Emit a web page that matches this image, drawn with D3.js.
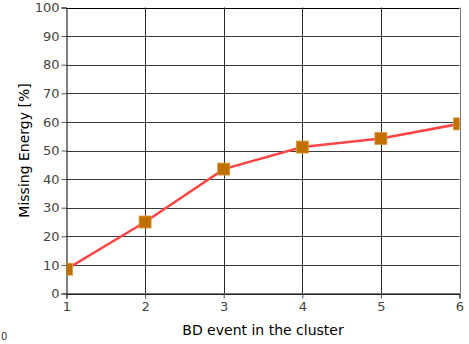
<!DOCTYPE html>
<html>
<head>
<meta charset="utf-8">
<script src="https://cdn.jsdelivr.net/npm/d3@7"></script>
<style>
  html, body { margin: 0; padding: 0; background: #fff; }
  svg { display: block; }
  text { font-family: "DejaVu Sans", Verdana, sans-serif; }
</style>
</head>
<body>
<svg id="chart" width="469" height="344"></svg>
<script>
// BD event index within the cluster
const events = [1, 2, 3, 4, 5, 6];
// Missing energy per event, in percent
const missingEnergy = [8.5, 25, 43.5, 51.2, 54.2, 59.3];
const xTicks = [1, 2, 3, 4, 5, 6];
const yTicks = [0, 10, 20, 30, 40, 50, 60, 70, 80, 90, 100];

const svg = d3.select("#chart");
const plot = { left: 66.5, right: 459.5, top: 7.5, bottom: 293.5 };

const x = d3.scaleLinear().domain([1, 6]).range([plot.left, plot.right]);
const y = d3.scaleLinear().domain([0, 100]).range([plot.bottom, plot.top]);

// Grid
const grid = svg.append("g");
grid.selectAll("line.h").data(yTicks).join("line")
  .attr("x1", plot.left).attr("x2", plot.right)
  .attr("y1", d => Math.round(y(d)) + 0.5).attr("y2", d => Math.round(y(d)) + 0.5)
  .attr("stroke", d => d === 100 ? "#000" : "#3a3a3a").attr("stroke-width", 1);
grid.selectAll("line.v").data(xTicks.slice(1)).join("line")
  .attr("y1", plot.top).attr("y2", plot.bottom)
  .attr("x1", d => Math.round(x(d)) + 0.5).attr("x2", d => Math.round(x(d)) + 0.5)
  .attr("stroke", d => d === 6 ? "#777" : "#2a2a2a").attr("stroke-width", 1);

// Axes
const yAxis = svg.append("g")
  .attr("transform", `translate(${plot.left},0)`)
  .call(d3.axisLeft(y).tickValues(yTicks).tickSize(5).tickPadding(2));
const xAxis = svg.append("g")
  .attr("transform", `translate(0,${plot.bottom})`)
  .call(d3.axisBottom(x).tickValues(xTicks).tickSize(5).tickPadding(3).tickFormat(d3.format("d")));

[yAxis, xAxis].forEach(g => {
  g.select(".domain").attr("stroke", "#000");
  g.selectAll(".tick line").attr("stroke", "#555");
  g.selectAll(".tick text").attr("fill", "#444")
    .style("font-family", "'DejaVu Sans', Verdana, sans-serif").style("font-size", "13px");
});

// Clip marks to the plot area
svg.append("clipPath").attr("id", "plotClip").append("rect")
  .attr("x", plot.left).attr("y", plot.top)
  .attr("width", plot.right - plot.left).attr("height", plot.bottom - plot.top);

const marks = svg.append("g").attr("clip-path", "url(#plotClip)");
const line = d3.line().x((d, i) => x(events[i])).y(d => y(d));
marks.append("path").datum(missingEnergy)
  .attr("d", line).attr("fill", "none")
  .attr("stroke", "#ff4545").attr("stroke-width", 2.6);

const s = 12;
marks.selectAll("rect.pt").data(missingEnergy).join("rect")
  .attr("x", (d, i) => x(events[i]) - s / 2).attr("y", d => y(d) - s / 2)
  .attr("width", s).attr("height", s)
  .attr("fill", "#bf7000").attr("stroke", "#d99a40").attr("stroke-width", 0.8);

// Axis titles
svg.append("text")
  .attr("x", 263).attr("y", 335).attr("text-anchor", "middle")
  .style("font-size", "14px").attr("fill", "#000")
  .text("BD event in the cluster");
svg.append("text")
  .attr("transform", `translate(29,${(plot.top + plot.bottom) / 2}) rotate(-90)`)
  .attr("text-anchor", "middle")
  .style("font-size", "14px").attr("fill", "#000")
  .text("Missing Energy [%]");

// Small label at the lower-left corner
svg.append("text")
  .attr("x", 1).attr("y", 340).attr("text-anchor", "start")
  .style("font-size", "10px").attr("fill", "#333")
  .text("0");
</script>
</body>
</html>
